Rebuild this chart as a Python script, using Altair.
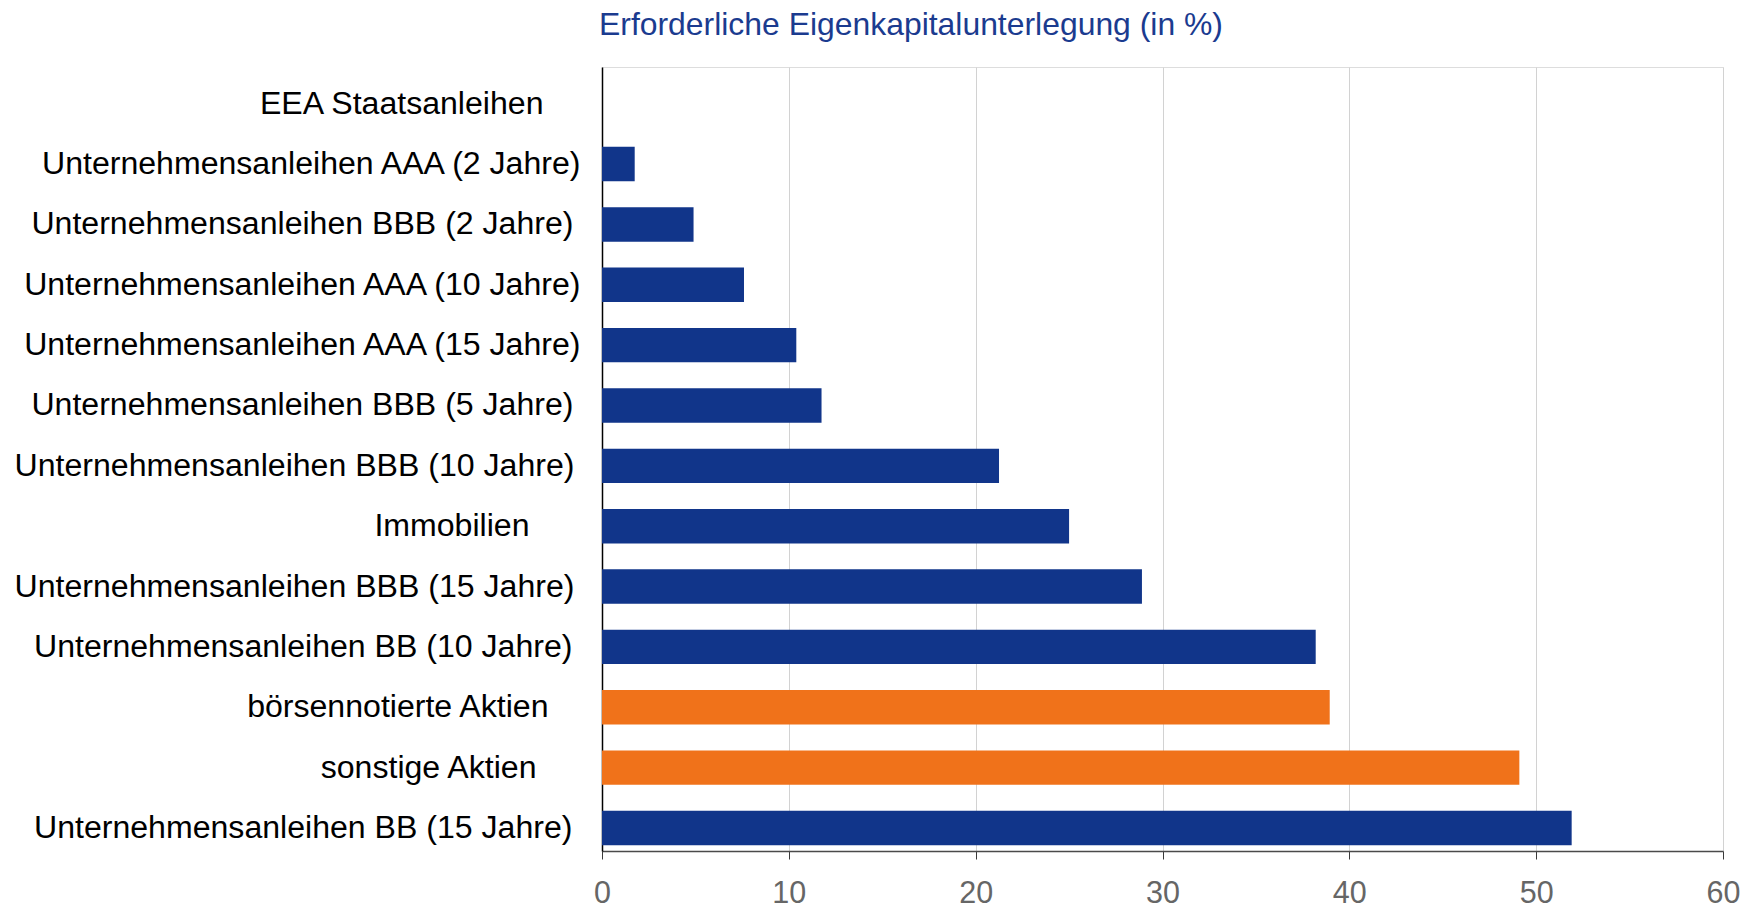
import altair as alt
import pandas as pd

categories = [
    "EEA Staatsanleihen",
    "Unternehmensanleihen AAA (2 Jahre)",
    "Unternehmensanleihen BBB (2 Jahre)",
    "Unternehmensanleihen AAA (10 Jahre)",
    "Unternehmensanleihen AAA (15 Jahre)",
    "Unternehmensanleihen BBB (5 Jahre)",
    "Unternehmensanleihen BBB (10 Jahre)",
    "Immobilien",
    "Unternehmensanleihen BBB (15 Jahre)",
    "Unternehmensanleihen BB (10 Jahre)",
    "börsennotierte Aktien",
    "sonstige Aktien",
    "Unternehmensanleihen BB (15 Jahre)",
]
values = [0, 1.75, 4.9, 7.6, 10.4, 11.75, 21.25, 25.0, 28.9, 38.2, 38.95, 49.1, 51.9]
groups = ["Anleihen", "Anleihen", "Anleihen", "Anleihen", "Anleihen", "Anleihen",
          "Anleihen", "Anleihen", "Anleihen", "Anleihen", "Aktien", "Aktien", "Anleihen"]
x_ticks = [0, 10, 20, 30, 40, 50, 60]
title_text = "Erforderliche Eigenkapitalunterlegung (in %)"

df = pd.DataFrame({"kategorie": categories, "wert": values, "gruppe": groups})

# extra label padding (px) to mimic the original's uneven label alignment
BASE_PAD = 22
extra_pad = {
    "EEA Staatsanleihen": 37,
    "Unternehmensanleihen BBB (2 Jahre)": 7,
    "Unternehmensanleihen BBB (5 Jahre)": 7,
    "Unternehmensanleihen BBB (10 Jahre)": 6,
    "Immobilien": 51,
    "Unternehmensanleihen BBB (15 Jahre)": 6,
    "Unternehmensanleihen BB (10 Jahre)": 8,
    "börsennotierte Aktien": 32,
    "sonstige Aktien": 44,
    "Unternehmensanleihen BB (15 Jahre)": 8,
}
pad_cond = {
    "condition": [
        {"test": f"datum.value == '{k}'", "value": BASE_PAD + v} for k, v in extra_pad.items()
    ],
    "value": BASE_PAD,
}

FONT = "Liberation Sans, Arial, Helvetica, sans-serif"

chart = (
    alt.Chart(df)
    .mark_bar()
    .encode(
        x=alt.X(
            "wert:Q",
            scale=alt.Scale(domain=[0, 60], nice=False, zero=True),
            axis=alt.Axis(
                title=None,
                values=x_ticks,
                format="d",
                grid=True,
                gridColor="#d2d2d2",
                gridWidth=1,
                domainColor="#4a4a4a",
                domainWidth=1.5,
                tickColor="#3a3a3a",
                tickSize=8,
                tickWidth=1,
                labelColor="#666666",
                labelFont=FONT,
                labelFontSize=30.5,
                labelPadding=19,
                labelFlush=False,
            ),
        ),
        y=alt.Y(
            "kategorie:N",
            sort=categories,
            scale=alt.Scale(paddingInner=0.43, paddingOuter=0.21, align=0.77),
            axis=alt.Axis(
                title=None,
                ticks=False,
                tickSize=0,
                grid=False,
                domainColor="#000000",
                domainWidth=1.5,
                labelColor="#000000",
                labelFont=FONT,
                labelFontSize=32.1,
                labelPadding=pad_cond,
                labelLimit=0,
            ),
        ),
        color=alt.Color(
            "gruppe:N",
            scale=alt.Scale(domain=["Anleihen", "Aktien"], range=["#11358a", "#f0721a"]),
            legend=None,
        ),
    )
    .properties(
        width=1121,
        height=784,
        title=alt.TitleParams(
            text=title_text,
            anchor="start",
            frame="group",
            font=FONT,
            fontSize=31.9,
            fontWeight="normal",
            color="#1b3b8f",
            offset=25,
            dx=-3,
        ),
        autosize=alt.AutoSizeParams(type="none"),
        padding={"left": 594, "top": 59, "right": 18, "bottom": 57},
    )
    .configure_view(stroke=None)
    .configure(background="white")
)

chart.save("out.html", embed_options={"renderer": "svg", "actions": False})
